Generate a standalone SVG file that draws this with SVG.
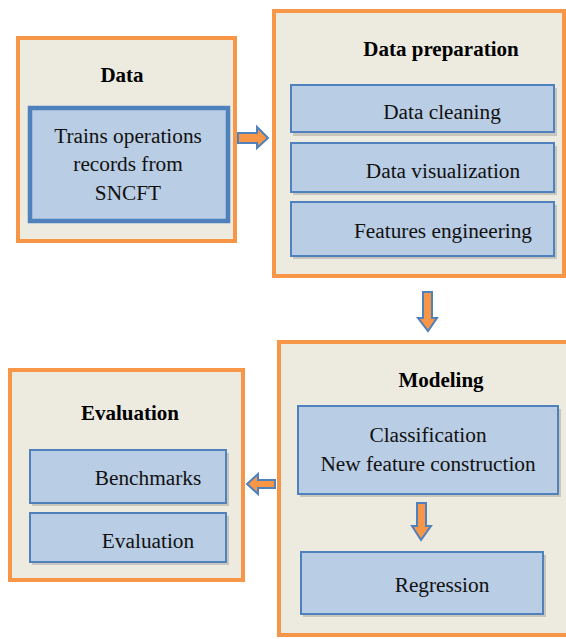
<svg xmlns="http://www.w3.org/2000/svg" width="566" height="639" viewBox="0 0 566 639">
  <style>
    .stage { fill: #EDEAE0; stroke: #F79646; stroke-width: 4; }
    .task { fill: #B9CDE5; stroke: #4F81BD; stroke-width: 2; }
    .task-main { fill: #B9CDE5; stroke: #4F81BD; stroke-width: 4.5; }
    .shadow { fill: #9A9890; opacity: 0.45; }
    .title { font-family: "Liberation Serif", "Times New Roman", serif; font-weight: bold; font-size: 21px; fill: #000; text-anchor: middle; }
    .label { font-family: "Liberation Serif", "Times New Roman", serif; font-size: 21.3px; fill: #111; text-anchor: middle; }
    .flow { fill: #F79646; stroke: #4F81BD; stroke-width: 2; stroke-linejoin: miter; }
  </style>
  <rect width="566" height="639" fill="#FFFFFF"/>

  <!-- Data -->
  <g id="data">
    <rect class="stage" x="18" y="38" width="217" height="203"/>
    <text class="title" x="122" y="82">Data</text>
    <rect class="task-main" x="30" y="108" width="198" height="113"/>
    <text class="label" x="128" y="143">Trains operations</text>
    <text class="label" x="128" y="171">records from</text>
    <text class="label" x="128" y="200">SNCFT</text>
  </g>

  <!-- Data preparation -->
  <g id="data-preparation">
    <rect class="stage" x="274" y="11" width="290" height="265"/>
    <text class="title" x="441" y="56">Data preparation</text>
    <rect class="shadow" x="293" y="88" width="264" height="48"/>
    <rect class="task" x="291" y="85" width="263" height="47"/>
    <text class="label" x="442" y="119">Data cleaning</text>
    <rect class="shadow" x="293" y="146" width="264" height="49"/>
    <rect class="task" x="291" y="143" width="263" height="49"/>
    <text class="label" x="443" y="178">Data visualization</text>
    <rect class="shadow" x="293" y="205" width="264" height="54"/>
    <rect class="task" x="291" y="202" width="263" height="54"/>
    <text class="label" x="443" y="238">Features engineering</text>
  </g>

  <!-- Modeling -->
  <g id="modeling">
    <rect class="stage" x="279" y="342" width="292" height="293"/>
    <text class="title" x="441" y="387">Modeling</text>
    <rect class="shadow" x="300" y="409" width="261" height="88"/>
    <rect class="task" x="298" y="406" width="260" height="88"/>
    <text class="label" x="428" y="442">Classification</text>
    <text class="label" x="428" y="471">New feature construction</text>
    <rect class="shadow" x="303" y="555" width="243" height="62"/>
    <rect class="task" x="301" y="552" width="242" height="62"/>
    <text class="label" x="442" y="592">Regression</text>
  </g>

  <!-- Evaluation -->
  <g id="evaluation">
    <rect class="stage" x="10" y="370" width="233" height="210"/>
    <text class="title" x="130" y="420">Evaluation</text>
    <rect class="shadow" x="32" y="453" width="197" height="53"/>
    <rect class="task" x="30" y="450" width="196" height="53"/>
    <text class="label" x="148" y="485">Benchmarks</text>
    <rect class="shadow" x="32" y="516" width="197" height="49"/>
    <rect class="task" x="30" y="513" width="196" height="49"/>
    <text class="label" x="148" y="548">Evaluation</text>
  </g>

  <!-- Block arrows between stages -->
  <g id="connectors">
    <!-- Data to Data preparation -->
    <polygon class="flow" points="238,133 257,133 257,127 268,138 257,148 257,143 238,143"/>
    <!-- Data preparation to Modeling -->
    <polygon class="flow" points="423,292 432,292 432,318 437,318 428,331 418,318 423,318"/>
    <!-- Modeling to Evaluation -->
    <polygon class="flow" points="275,480 258,480 258,474 247,484 258,494 258,488 275,488"/>
    <!-- Classification to Regression -->
    <polygon class="flow" points="417,503 426,503 426,526 431,526 421,540 412,526 417,526"/>
  </g>
</svg>
